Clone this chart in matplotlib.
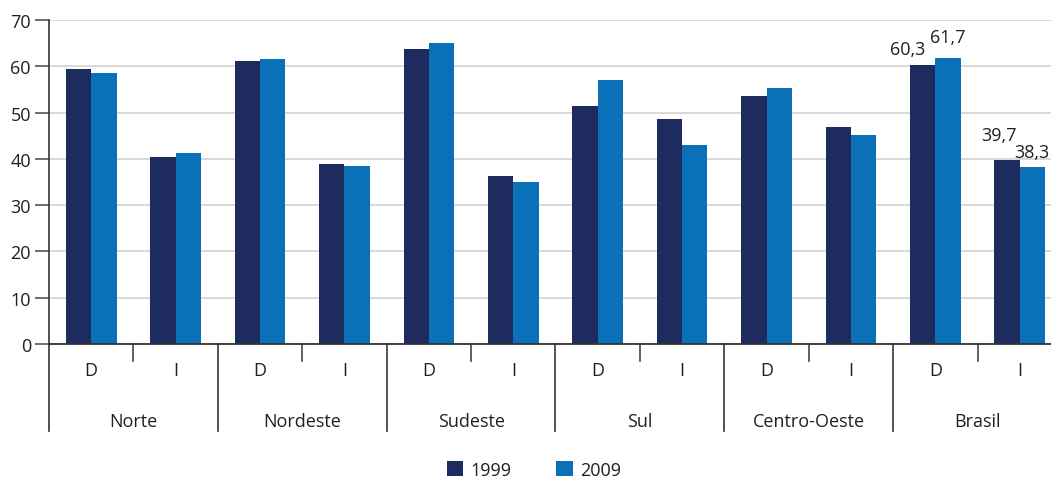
import matplotlib
matplotlib.use("Agg")
import matplotlib.pyplot as plt
import matplotlib.transforms as mtransforms
import numpy as np

regions = ["Norte", "Nordeste", "Sudeste", "Sul", "Centro-Oeste", "Brasil"]
kinds = ["D", "I"]
v1999 = [59.4, 40.4, 61.1, 38.9, 63.7, 36.3, 51.4, 48.6, 53.6, 46.9, 60.3, 39.7]
v2009 = [58.5, 41.3, 61.6, 38.5, 65.0, 35.0, 57.0, 43.0, 55.3, 45.1, 61.7, 38.3]
labelled = [10, 11]  # Brasil D and I get value labels

DARK = "#1d2b5e"
BLUE = "#0a70b8"
TXT = "#231f20"

plt.rcParams["font.family"] = ["Open Sans", "DejaVu Sans"]
plt.rcParams["font.size"] = 13

fig = plt.figure(figsize=(10.51, 4.81), dpi=100)
# the chart runs a little past the right edge of the picture (as in the source)
ax = fig.add_axes([49 / 1051, 1 - 345 / 481, 1013 / 1051, 324 / 481])

x = np.arange(len(v1999))
w = 0.3
b1 = ax.bar(x - w / 2, v1999, w, color=DARK, label="1999", zorder=3)
b2 = ax.bar(x + w / 2, v2009, w, color=BLUE, label="2009", zorder=3)

ax.set_xlim(-0.5, len(x) - 0.5)
ax.set_ylim(0, 70)
ax.set_yticks(range(0, 71, 10))
ax.yaxis.grid(True, color="#d6d6d6", linewidth=1.3, zorder=0)
ax.tick_params(axis="y", length=10, width=1.2, color="#555555", labelcolor=TXT, pad=3)

for s in ["top", "right"]:
    ax.spines[s].set_visible(False)
ax.spines["left"].set_color("#333333")
ax.spines["left"].set_linewidth(1.2)
ax.spines["bottom"].set_color("#333333")
ax.spines["bottom"].set_linewidth(1.3)
ax.spines["bottom"].set_zorder(4)

# category labels (D / I) and region labels below
ax.set_xticks(x)
ax.set_xticklabels([kinds[i % 2] for i in x], color=TXT)
ax.tick_params(axis="x", length=0, pad=12)

trans = mtransforms.blended_transform_factory(ax.transData, ax.transAxes)
for i in range(len(x) + 1):
    xs = i - 0.5
    if i % 2 == 0:
        y0 = -0.268
        c = "#333333"
    else:
        y0 = -0.053
        c = "#444444"
    ax.plot([xs, xs], [0, y0], transform=trans, color=c, lw=1.2, clip_on=False)

for j, r in enumerate(regions):
    ax.text(2 * j + 0.5, -0.238, r, transform=trans, ha="center", va="center", color=TXT)

# value labels for Brasil
offs1 = {10: (-15, 16), 11: (-8, 25)}
offs2 = {10: (0, 21), 11: (-1, 15)}
for i in labelled:
    ax.annotate(f"{v1999[i]:.1f}".replace(".", ","), (x[i] - w / 2, v1999[i]),
                xytext=offs1[i], textcoords="offset pixels", ha="center", va="center",
                color=TXT, annotation_clip=False)
    ax.annotate(f"{v2009[i]:.1f}".replace(".", ","), (x[i] + w / 2, v2009[i]),
                xytext=offs2[i], textcoords="offset pixels", ha="center", va="center",
                color=TXT, annotation_clip=False)

fig.legend(handles=[b1, b2], loc="center", bbox_to_anchor=(0.508, 0.021), ncol=2,
           frameon=False, handlelength=0.9, handleheight=0.9, handletextpad=0.4,
           columnspacing=2.5, labelcolor=TXT)

fig.savefig("out.png", dpi=100)
